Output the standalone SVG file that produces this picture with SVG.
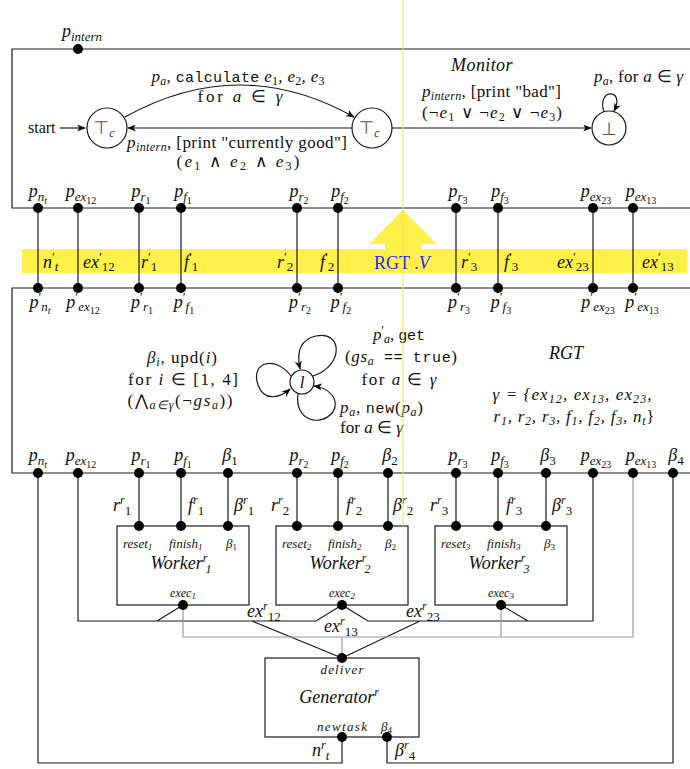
<svg xmlns="http://www.w3.org/2000/svg" width="690" height="769" viewBox="0 0 690 769">
<defs>
<style>
text{font-family:"Liberation Serif","Times New Roman",serif;font-size:17px;fill:#111}
.i{font-style:italic}
.u{font-style:normal}
.tt{font-family:"Liberation Mono","Courier New",monospace;font-size:15px;font-style:normal}
.pl{font-size:18px;font-style:italic}
.s1{font-size:13px}
.s2{font-size:10px}
.sb{font-size:12px}
.ss{font-size:9px}
.pr{font-size:13px;font-style:normal}
.sm{font-size:13px}
.ln{stroke:#1a1a1a;stroke-width:1.2;fill:none}
.gr{stroke:#9a9a9a;stroke-width:1.2;fill:none}
.box{stroke:#1a1a1a;stroke-width:1.2;fill:#fff}
.st{stroke:#1a1a1a;stroke-width:1.2;fill:#fff}
.sym{font-family:"DejaVu Sans",sans-serif;fill:#555}
.yl{fill:#fff04a}
</style>
<marker id="ar" viewBox="0 0 10 8" refX="9" refY="4" markerWidth="9" markerHeight="7" orient="auto" markerUnits="userSpaceOnUse">
<path d="M0,0 L10,4 L0,8 L2.5,4 z" fill="#111"/>
</marker>
<circle id="dt" r="5" fill="#000"/>
</defs>
<rect width="690" height="769" fill="#fff"/>

<g id="interface">
<rect class="yl" x="22" y="249" width="665" height="24"/>
<polygon class="yl" points="403,210 437,244 421,244 421,249 385,249 385,244 369,244"/>
<text x="374" y="269" style="font-size:18px;fill:#2a2ae6">RGT .<tspan class="i">V</tspan></text>
</g>

<g id="monitor">
<path class="ln" d="M690,49 H12 V208 H690"/>
<text class="i" x="482" y="71" text-anchor="middle" style="font-size:18px;letter-spacing:0.4px">Monitor</text>
<use href="#dt" x="78" y="49"/>
<text class="pl" x="82" y="37" text-anchor="middle">p<tspan class="s1" dy="4">intern</tspan></text>
<g id="tc1"><circle class="st" cx="107" cy="128" r="20"/><text class="sym" x="104" y="134" text-anchor="middle" style="font-size:18px">⊤<tspan class="i sb" style="font-family:'Liberation Serif',serif;fill:#333" dy="3">c</tspan></text></g>
<g id="tc2"><circle class="st" cx="372" cy="128" r="20"/><text class="sym" x="369" y="134" text-anchor="middle" style="font-size:18px">⊤<tspan class="i sb" style="font-family:'Liberation Serif',serif;fill:#333" dy="3">c</tspan></text></g>
<g id="bot"><circle class="st" cx="609" cy="128" r="17"/><text class="sym" x="609" y="135" text-anchor="middle" style="font-size:18px">⊥</text></g>
<text x="28" y="133" style="font-size:16px">start</text>
</g>

<g id="rgt">
<path class="ln" d="M690,288 H12 V473 H690"/>
<text class="i" x="566" y="359" text-anchor="middle" style="font-size:18px">RGT</text>
<text class="i" x="572" y="400" text-anchor="middle" textLength="159" lengthAdjust="spacing">γ = {ex<tspan class="sb" dy="3">12</tspan><tspan dy="-3">, ex</tspan><tspan class="sb" dy="3">13</tspan><tspan dy="-3">, ex</tspan><tspan class="sb" dy="3">23</tspan><tspan dy="-3">,</tspan></text>
<text class="i" x="574" y="422" text-anchor="middle" textLength="161" lengthAdjust="spacing">r<tspan class="sb" dy="3">1</tspan><tspan dy="-3">, r</tspan><tspan class="sb" dy="3">2</tspan><tspan dy="-3">, r</tspan><tspan class="sb" dy="3">3</tspan><tspan dy="-3">, f</tspan><tspan class="sb" dy="3">1</tspan><tspan dy="-3">, f</tspan><tspan class="sb" dy="3">2</tspan><tspan dy="-3">, f</tspan><tspan class="sb" dy="3">3</tspan><tspan dy="-3">, n</tspan><tspan class="sb" dy="3">t</tspan><tspan class="u" dy="-3">}</tspan></text>
<g id="loc-l"><circle class="st" cx="302" cy="382" r="12"/><text class="i" x="302" y="388" text-anchor="middle">l</text></g>
<text x="182" y="363" text-anchor="middle" textLength="70" lengthAdjust="spacing"><tspan class="i">β</tspan><tspan class="i sb" dy="3">i</tspan><tspan dy="-3">, upd(</tspan><tspan class="i">i</tspan>)</text>
<text x="183" y="385" text-anchor="middle" textLength="110" lengthAdjust="spacing">for <tspan class="i">i</tspan>   ∈    [1, 4]</text>
<text x="180" y="406" text-anchor="middle" textLength="105" lengthAdjust="spacing">(<tspan style="font-family:'DejaVu Serif',serif;font-size:16px">⋀</tspan><tspan class="i sb" dy="3">a∈γ</tspan><tspan dy="-3">(¬</tspan><tspan class="i">gs</tspan><tspan class="i sb" dy="3">a</tspan><tspan dy="-3">))</tspan></text>
<text x="399" y="340" text-anchor="middle" textLength="52" lengthAdjust="spacing"><tspan class="i">p</tspan><tspan class="pr" dy="-6">′</tspan><tspan class="i sb" dy="9">a</tspan><tspan dy="-3">, </tspan><tspan class="tt">get</tspan></text>
<text x="401" y="362" text-anchor="middle" textLength="112" lengthAdjust="spacing">(<tspan class="i">gs</tspan><tspan class="i sb" dy="3">a</tspan><tspan class="tt" dy="-3"> == true</tspan>)</text>
<text x="399" y="385" text-anchor="middle" textLength="75" lengthAdjust="spacing">for <tspan class="i">a</tspan>  ∈  <tspan class="i">γ</tspan></text>
<text x="340" y="413" textLength="83" lengthAdjust="spacing"><tspan class="i">p</tspan><tspan class="i sb" dy="3">a</tspan><tspan dy="-3">, </tspan><tspan class="tt">new</tspan>(<tspan class="i">p</tspan><tspan class="i sb" dy="3">a</tspan><tspan dy="-3">)</tspan></text>
<text x="340" y="433" textLength="63" lengthAdjust="spacing">for <tspan class="i">a</tspan> ∈ <tspan class="i">γ</tspan></text>
</g>

<g id="worker1">
<rect class="box" x="117" y="526" width="132" height="79"/>
<text class="i sm" x="123" y="548">reset<tspan class="ss" dy="2">1</tspan></text>
<text class="i sm" x="169" y="548">finish<tspan class="ss" dy="2">1</tspan></text>
<text class="i sm" x="226" y="548">β<tspan class="ss u" dy="2">1</tspan></text>
<text class="i" x="181" y="569" text-anchor="middle" style="font-size:18px">Worker<tspan class="sb" dy="-7">r</tspan><tspan class="sb" dx="-2" dy="11">1</tspan></text>
<text class="i sb" x="183" y="597" text-anchor="middle">exec<tspan class="ss" dy="2">1</tspan></text>
</g>
<g id="worker2">
<rect class="box" x="276" y="526" width="132" height="79"/>
<text class="i sm" x="282" y="548">reset<tspan class="ss" dy="2">2</tspan></text>
<text class="i sm" x="328" y="548">finish<tspan class="ss" dy="2">2</tspan></text>
<text class="i sm" x="385" y="548">β<tspan class="ss u" dy="2">2</tspan></text>
<text class="i" x="340" y="569" text-anchor="middle" style="font-size:18px">Worker<tspan class="sb" dy="-7">r</tspan><tspan class="sb" dx="-2" dy="11">2</tspan></text>
<text class="i sb" x="342" y="597" text-anchor="middle">exec<tspan class="ss" dy="2">2</tspan></text>
</g>
<g id="worker3">
<rect class="box" x="435" y="526" width="132" height="79"/>
<text class="i sm" x="441" y="548">reset<tspan class="ss" dy="2">3</tspan></text>
<text class="i sm" x="487" y="548">finish<tspan class="ss" dy="2">3</tspan></text>
<text class="i sm" x="544" y="548">β<tspan class="ss u" dy="2">3</tspan></text>
<text class="i" x="499" y="569" text-anchor="middle" style="font-size:18px">Worker<tspan class="sb" dy="-7">r</tspan><tspan class="sb" dx="-2" dy="11">3</tspan></text>
<text class="i sb" x="501" y="597" text-anchor="middle">exec<tspan class="ss" dy="2">3</tspan></text>
</g>

<g id="generator">
<rect class="box" x="265" y="658" width="154" height="79"/>
<text class="i sm" x="342" y="674" text-anchor="middle" textLength="43" lengthAdjust="spacing">deliver</text>
<text class="i" x="339" y="703" text-anchor="middle" style="font-size:18px">Generator<tspan class="sb" dy="-7">r</tspan></text>
<text class="i sm" x="342" y="731" text-anchor="middle" textLength="50" lengthAdjust="spacing">newtask</text>
<text class="i sm" x="381" y="731">β<tspan class="ss u" dy="2">4</tspan></text>
</g>

<g id="connectors">
<path class="ln" d="M60,128 H85" marker-end="url(#ar)"/>
<path class="ln" d="M125,117 Q240,53 354,117" marker-end="url(#ar)"/>
<path class="ln" d="M352,128 H128" marker-end="url(#ar)"/>
<path class="ln" d="M392,128 H591" marker-end="url(#ar)"/>
<path class="ln" d="M604,112 C596,88 626,88 614,111" marker-end="url(#ar)"/>
<path class="ln" d="M313,376 C345,365 342,330 316,336 C298,340 297,355 300,369" marker-end="url(#ar)"/>
<path class="ln" d="M291,376 C275,355 250,362 258,385 C264,402 280,398 290,389" marker-end="url(#ar)"/>
<path class="ln" d="M298,394 C294,420 320,428 333,412 C340,400 330,388 314,386" marker-end="url(#ar)"/>
<path class="ln" d="M38,208 V288 M78,208 V288 M139,208 V288 M181,208 V288 M297,208 V288 M338,208 V288 M456,208 V288 M498,208 V288 M593,208 V288 M633,208 V288"/>
<path class="ln" d="M139,473 V526 M181,473 V526 M228,473 V526 M297,473 V526 M338,473 V526 M388,473 V526 M456,473 V526 M498,473 V526 M546,473 V526"/>
<path class="ln" d="M78,473 V621 H316 L342,605 M183,605 L157,621 M252,621 L342,658"/>
<path class="ln" d="M593,473 V621 H368 L342,605 M501,605 L528,621 M420,621 L342,658"/>
<path class="gr" d="M633,473 V637 H183 V605 M501,605 V637 M342,637 V658"/>
<path class="ln" d="M38,473 V763 H342 V737"/>
<path class="ln" d="M673,473 V763 H387 V737"/>
<g>
<use href="#dt" x="38" y="208"/><use href="#dt" x="78" y="208"/><use href="#dt" x="139" y="208"/><use href="#dt" x="181" y="208"/><use href="#dt" x="297" y="208"/><use href="#dt" x="338" y="208"/><use href="#dt" x="456" y="208"/><use href="#dt" x="498" y="208"/><use href="#dt" x="593" y="208"/><use href="#dt" x="633" y="208"/>
<use href="#dt" x="38" y="288"/><use href="#dt" x="78" y="288"/><use href="#dt" x="139" y="288"/><use href="#dt" x="181" y="288"/><use href="#dt" x="297" y="288"/><use href="#dt" x="338" y="288"/><use href="#dt" x="456" y="288"/><use href="#dt" x="498" y="288"/><use href="#dt" x="593" y="288"/><use href="#dt" x="633" y="288"/>
<use href="#dt" x="38" y="473"/><use href="#dt" x="78" y="473"/><use href="#dt" x="139" y="473"/><use href="#dt" x="181" y="473"/><use href="#dt" x="228" y="473"/><use href="#dt" x="297" y="473"/><use href="#dt" x="338" y="473"/><use href="#dt" x="388" y="473"/><use href="#dt" x="456" y="473"/><use href="#dt" x="498" y="473"/><use href="#dt" x="546" y="473"/><use href="#dt" x="593" y="473"/><use href="#dt" x="633" y="473"/><use href="#dt" x="673" y="473"/>
<use href="#dt" x="139" y="526"/><use href="#dt" x="181" y="526"/><use href="#dt" x="228" y="526"/><use href="#dt" x="297" y="526"/><use href="#dt" x="338" y="526"/><use href="#dt" x="388" y="526"/><use href="#dt" x="456" y="526"/><use href="#dt" x="498" y="526"/><use href="#dt" x="546" y="526"/>
<use href="#dt" x="183" y="605"/><use href="#dt" x="342" y="605"/><use href="#dt" x="501" y="605"/>
<use href="#dt" x="342" y="658"/><use href="#dt" x="342" y="737"/><use href="#dt" x="387" y="737"/>
</g>
</g>

<g id="labels">
<text x="238" y="82" text-anchor="middle" textLength="173" lengthAdjust="spacing"><tspan class="i">p</tspan><tspan class="i sb" dy="3">a</tspan><tspan dy="-3">, </tspan><tspan class="tt">calculate</tspan> <tspan class="i">e</tspan><tspan class="sb" dy="3">1</tspan><tspan class="i" dy="-3">, e</tspan><tspan class="sb" dy="3">2</tspan><tspan class="i" dy="-3">, e</tspan><tspan class="sb" dy="3">3</tspan></text>
<text x="240" y="102" text-anchor="middle" textLength="85" lengthAdjust="spacing">for   <tspan class="i">a</tspan>    ∈    <tspan class="i">γ</tspan></text>
<text x="127" y="148" textLength="220" lengthAdjust="spacing"><tspan class="i">p</tspan><tspan class="i sb" dy="3">intern</tspan><tspan dy="-3">,  [print  "currently  good"]</tspan></text>
<text x="238" y="167" text-anchor="middle" textLength="123" lengthAdjust="spacing">(<tspan class="i">e</tspan><tspan class="sb" dy="3">1</tspan><tspan dy="-3">   ∧   </tspan><tspan class="i">e</tspan><tspan class="sb" dy="3">2</tspan><tspan dy="-3">   ∧   </tspan><tspan class="i">e</tspan><tspan class="sb" dy="3">3</tspan><tspan dy="-3">)</tspan></text>
<text x="422" y="97" textLength="139" lengthAdjust="spacing"><tspan class="i">p</tspan><tspan class="i sb" dy="3">intern</tspan><tspan dy="-3">, [print "bad"]</tspan></text>
<text x="422" y="118" textLength="140" lengthAdjust="spacing">(¬<tspan class="i">e</tspan><tspan class="sb" dy="3">1</tspan><tspan dy="-3">  ∨  ¬</tspan><tspan class="i">e</tspan><tspan class="sb" dy="3">2</tspan><tspan dy="-3">  ∨  ¬</tspan><tspan class="i">e</tspan><tspan class="sb" dy="3">3</tspan><tspan dy="-3">)</tspan></text>
<text x="594" y="82" textLength="89" lengthAdjust="spacing"><tspan class="i">p</tspan><tspan class="i sb" dy="3">a</tspan><tspan dy="-3">, for </tspan><tspan class="i">a</tspan> ∈ <tspan class="i">γ</tspan></text>

<g>
<text class="pl" x="38" y="197" text-anchor="middle">p<tspan class="s1" dy="4">n</tspan><tspan class="s2" dy="3">t</tspan></text>
<text class="pl" x="81" y="197" text-anchor="middle">p<tspan class="s1" dy="4">ex</tspan><tspan class="s2 u" dy="3">12</tspan></text>
<text class="pl" x="141" y="197" text-anchor="middle">p<tspan class="s1" dy="4">r</tspan><tspan class="s2 u" dy="3">1</tspan></text>
<text class="pl" x="183" y="197" text-anchor="middle">p<tspan class="s1" dy="4">f</tspan><tspan class="s2 u" dy="3">1</tspan></text>
<text class="pl" x="299" y="197" text-anchor="middle">p<tspan class="s1" dy="4">r</tspan><tspan class="s2 u" dy="3">2</tspan></text>
<text class="pl" x="340" y="197" text-anchor="middle">p<tspan class="s1" dy="4">f</tspan><tspan class="s2 u" dy="3">2</tspan></text>
<text class="pl" x="458" y="197" text-anchor="middle">p<tspan class="s1" dy="4">r</tspan><tspan class="s2 u" dy="3">3</tspan></text>
<text class="pl" x="500" y="197" text-anchor="middle">p<tspan class="s1" dy="4">f</tspan><tspan class="s2 u" dy="3">3</tspan></text>
<text class="pl" x="596" y="197" text-anchor="middle">p<tspan class="s1" dy="4">ex</tspan><tspan class="s2 u" dy="3">23</tspan></text>
<text class="pl" x="641" y="197" text-anchor="middle">p<tspan class="s1" dy="4">ex</tspan><tspan class="s2 u" dy="3">13</tspan></text>
</g>

<g>
<text class="pl" x="43" y="268">n<tspan class="pr" dy="-7">′</tspan><tspan class="s1" dy="10">t</tspan></text>
<text class="pl" x="83" y="268">ex<tspan class="pr" dy="-7">′</tspan><tspan class="s1 u" dy="10">12</tspan></text>
<text class="pl" x="141" y="268">r<tspan class="pr" dy="-7">′</tspan><tspan class="s1 u" dy="10">1</tspan></text>
<text class="pl" x="184" y="268">f<tspan class="pr" dy="-7">′</tspan><tspan class="s1 u" dy="10">1</tspan></text>
<text class="pl" x="277" y="268">r<tspan class="pr" dy="-7">′</tspan><tspan class="s1 u" dy="10">2</tspan></text>
<text class="pl" x="320" y="268">f<tspan class="pr" dy="-7">′</tspan><tspan class="s1 u" dy="10">2</tspan></text>
<text class="pl" x="461" y="268">r<tspan class="pr" dy="-7">′</tspan><tspan class="s1 u" dy="10">3</tspan></text>
<text class="pl" x="504" y="268">f<tspan class="pr" dy="-7">′</tspan><tspan class="s1 u" dy="10">3</tspan></text>
<text class="pl" x="557" y="268">ex<tspan class="pr" dy="-7">′</tspan><tspan class="s1 u" dy="10">23</tspan></text>
<text class="pl" x="642" y="268">ex<tspan class="pr" dy="-7">′</tspan><tspan class="s1 u" dy="10">13</tspan></text>
</g>

<g>
<text class="pl" x="40" y="308" text-anchor="middle">p<tspan class="pr" dy="-7">′</tspan><tspan class="s1" dy="10">n</tspan><tspan class="s2" dy="3">t</tspan></text>
<text class="pl" x="83" y="308" text-anchor="middle">p<tspan class="pr" dy="-7">′</tspan><tspan class="s1" dy="10">ex</tspan><tspan class="s2 u" dy="3">12</tspan></text>
<text class="pl" x="142" y="308" text-anchor="middle">p<tspan class="pr" dy="-7">′</tspan><tspan class="s1" dy="10">r</tspan><tspan class="s2 u" dy="3">1</tspan></text>
<text class="pl" x="184" y="308" text-anchor="middle">p<tspan class="pr" dy="-7">′</tspan><tspan class="s1" dy="10">f</tspan><tspan class="s2 u" dy="3">1</tspan></text>
<text class="pl" x="300" y="308" text-anchor="middle">p<tspan class="pr" dy="-7">′</tspan><tspan class="s1" dy="10">r</tspan><tspan class="s2 u" dy="3">2</tspan></text>
<text class="pl" x="341" y="308" text-anchor="middle">p<tspan class="pr" dy="-7">′</tspan><tspan class="s1" dy="10">f</tspan><tspan class="s2 u" dy="3">2</tspan></text>
<text class="pl" x="459" y="308" text-anchor="middle">p<tspan class="pr" dy="-7">′</tspan><tspan class="s1" dy="10">r</tspan><tspan class="s2 u" dy="3">3</tspan></text>
<text class="pl" x="501" y="308" text-anchor="middle">p<tspan class="pr" dy="-7">′</tspan><tspan class="s1" dy="10">f</tspan><tspan class="s2 u" dy="3">3</tspan></text>
<text class="pl" x="598" y="308" text-anchor="middle">p<tspan class="pr" dy="-7">′</tspan><tspan class="s1" dy="10">ex</tspan><tspan class="s2 u" dy="3">23</tspan></text>
<text class="pl" x="642" y="308" text-anchor="middle">p<tspan class="pr" dy="-7">′</tspan><tspan class="s1" dy="10">ex</tspan><tspan class="s2 u" dy="3">13</tspan></text>
</g>

<g>
<text class="pl" x="38" y="461" text-anchor="middle">p<tspan class="s1" dy="4">n</tspan><tspan class="s2" dy="3">t</tspan></text>
<text class="pl" x="81" y="461" text-anchor="middle">p<tspan class="s1" dy="4">ex</tspan><tspan class="s2 u" dy="3">12</tspan></text>
<text class="pl" x="141" y="461" text-anchor="middle">p<tspan class="s1" dy="4">r</tspan><tspan class="s2 u" dy="3">1</tspan></text>
<text class="pl" x="183" y="461" text-anchor="middle">p<tspan class="s1" dy="4">f</tspan><tspan class="s2 u" dy="3">1</tspan></text>
<text class="pl" x="230" y="461" text-anchor="middle">β<tspan class="s1 u" dy="4">1</tspan></text>
<text class="pl" x="299" y="461" text-anchor="middle">p<tspan class="s1" dy="4">r</tspan><tspan class="s2 u" dy="3">2</tspan></text>
<text class="pl" x="340" y="461" text-anchor="middle">p<tspan class="s1" dy="4">f</tspan><tspan class="s2 u" dy="3">2</tspan></text>
<text class="pl" x="390" y="461" text-anchor="middle">β<tspan class="s1 u" dy="4">2</tspan></text>
<text class="pl" x="458" y="461" text-anchor="middle">p<tspan class="s1" dy="4">r</tspan><tspan class="s2 u" dy="3">3</tspan></text>
<text class="pl" x="500" y="461" text-anchor="middle">p<tspan class="s1" dy="4">f</tspan><tspan class="s2 u" dy="3">3</tspan></text>
<text class="pl" x="548" y="461" text-anchor="middle">β<tspan class="s1 u" dy="4">3</tspan></text>
<text class="pl" x="596" y="461" text-anchor="middle">p<tspan class="s1" dy="4">ex</tspan><tspan class="s2 u" dy="3">23</tspan></text>
<text class="pl" x="641" y="461" text-anchor="middle">p<tspan class="s1" dy="4">ex</tspan><tspan class="s2 u" dy="3">13</tspan></text>
<text class="pl" x="676" y="461" text-anchor="middle">β<tspan class="s1 u" dy="4">4</tspan></text>
</g>

<g>
<text class="pl" x="113" y="511">r<tspan class="sb" dy="-7">r</tspan><tspan class="s1 u" dy="11">1</tspan></text>
<text class="pl" x="188" y="511">f<tspan class="sb" dy="-7">r</tspan><tspan class="s1 u" dy="11">1</tspan></text>
<text class="pl" x="234" y="511">β<tspan class="sb" dy="-7">r</tspan><tspan class="s1 u" dy="11">1</tspan></text>
<text class="pl" x="271" y="511">r<tspan class="sb" dy="-7">r</tspan><tspan class="s1 u" dy="11">2</tspan></text>
<text class="pl" x="346" y="511">f<tspan class="sb" dy="-7">r</tspan><tspan class="s1 u" dy="11">2</tspan></text>
<text class="pl" x="393" y="511">β<tspan class="sb" dy="-7">r</tspan><tspan class="s1 u" dy="11">2</tspan></text>
<text class="pl" x="430" y="511">r<tspan class="sb" dy="-7">r</tspan><tspan class="s1 u" dy="11">3</tspan></text>
<text class="pl" x="506" y="511">f<tspan class="sb" dy="-7">r</tspan><tspan class="s1 u" dy="11">3</tspan></text>
<text class="pl" x="552" y="511">β<tspan class="sb" dy="-7">r</tspan><tspan class="s1 u" dy="11">3</tspan></text>
<text class="pl" x="247" y="617">ex<tspan class="sb" dy="-7">r</tspan><tspan class="s1 u" dy="11">12</tspan></text>
<text class="pl" x="406" y="617">ex<tspan class="sb" dy="-7">r</tspan><tspan class="s1 u" dy="11">23</tspan></text>
<text class="pl" x="324" y="632">ex<tspan class="sb" dy="-7">r</tspan><tspan class="s1 u" dy="11">13</tspan></text>
<text class="pl" x="312" y="756">n<tspan class="sb" dy="-7">r</tspan><tspan class="s1" dy="11">t</tspan></text>
<text class="pl" x="395" y="756">β<tspan class="sb" dy="-7">r</tspan><tspan class="s1 u" dy="11">4</tspan></text>
</g>
</g>

<line x1="403" y1="0" x2="403" y2="526" stroke="#f2e84a" stroke-width="1"/>
</svg>
